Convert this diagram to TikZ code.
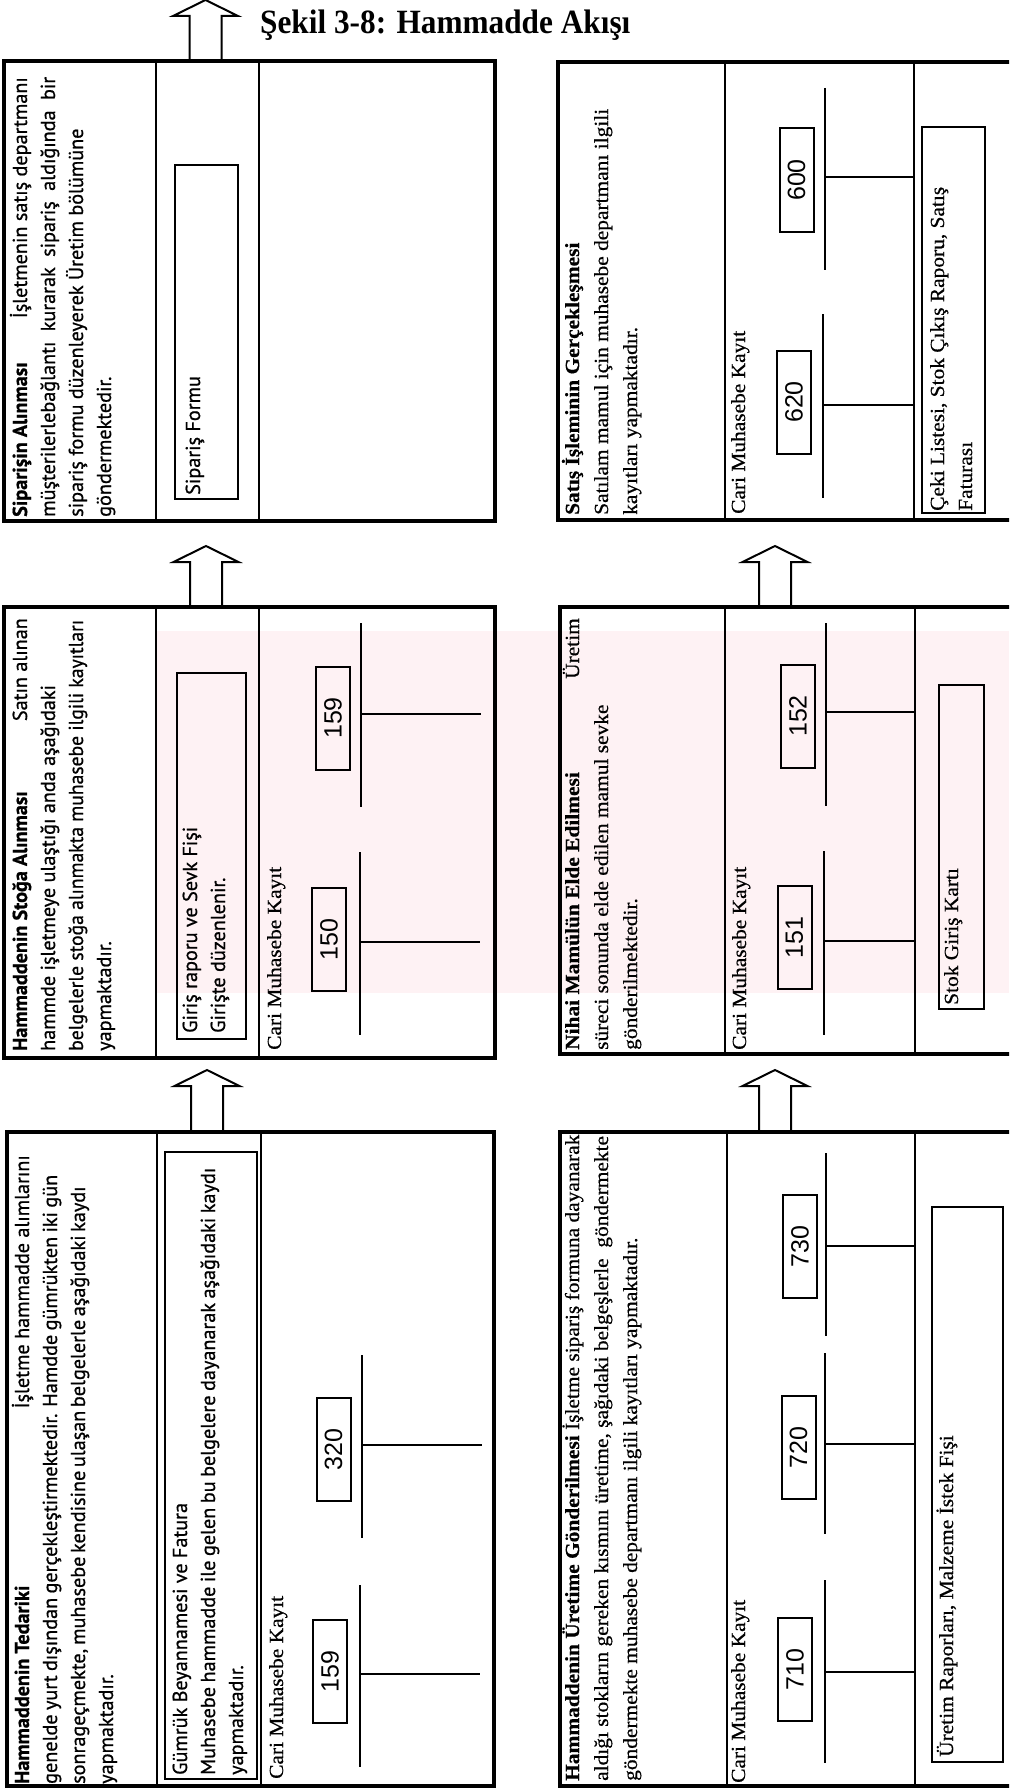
\documentclass[tikz,border=0pt]{standalone}
\usepackage{graphicx}
\usepackage{fontspec}
\setmainfont{Liberation Serif}
\newfontfamily\serifbody[FakeStretch=1.07, FakeBold=0.6]{Liberation Serif}
\newfontfamily\sansbody[FakeBold=0.8]{PT Sans}
\newfontfamily\numfont{Liberation Sans}
\newfontfamily\titlefont[FakeStretch=0.92]{Liberation Serif}
\definecolor{wmpink}{RGB}{254,242,244}

\tikzset{
  frame/.style={line width=4pt},
  divider/.style={line width=2.5pt},
  docbox/.style={draw, line width=2pt},
  numbox/.style={draw, line width=2pt, rotate=90, minimum width=103pt,
    minimum height=34pt, inner sep=0pt, outer sep=0pt,
    font=\numfont\fontsize{25}{25}\selectfont},
  tline/.style={line width=2.5pt},
  sline/.style={rotate=90, anchor=base west, inner sep=0pt,
    font=\sansbody\fontsize{20.2}{28}\selectfont},
  shead/.style={sline, font=\sansbody\bfseries\fontsize{20.2}{28}\selectfont},
  rline/.style={rotate=90, anchor=base west, inner sep=0pt,
    font=\serifbody\fontsize{20}{29}\selectfont},
  lineend/.style={anchor=base east},
  blockup/.pic={
    \draw[line width=2pt, line join=miter]
      (-16,0) -- (-16,-45) -- (-32.5,-45) -- (0,-61) -- (32.5,-45) -- (16,-45) -- (16,0);
  },
}

\begin{document}
\begin{tikzpicture}[x=1pt, y=-1pt]
\useasboundingbox (0,0) rectangle (1009,1790);
\fill[white] (0,0) rectangle (1009,1790);
\clip (0,0) rectangle (1009,1790);

% faint watermark band behind the middle row
\fill[wmpink] (157,631) rectangle (1009,993);

% ---------- title ----------
\node[anchor=base west, inner sep=0pt, font=\titlefont\bfseries\fontsize{34}{34}\selectfont]
  (title) at (260,34) {Şekil 3-8: Hammadde Akışı};
\pic (arrT) at (205.5,61) {blockup};

% ---------- left column, panel 1: Siparişin Alınması ----------
\draw[frame] (4,61) rectangle (495,521);
\draw[divider] (156,61) -- (156,521);
\draw[divider] (259,61) -- (259,521);
\node[shead] (l1a) at (27,517) {Siparişin Alınması};
\node[sline, lineend] (l1b) at (27,77) {İşletmenin satış departmanı};
\node[sline] (l1c) at (55,517) {\makebox[440pt][s]{müşterilerlebağlantı kurarak sipariş aldığında bir}};
\node[sline] (l1d) at (83,517) {sipariş formu düzenleyerek Üretim bölümüne};
\node[sline] (l1e) at (111,517) {göndermektedir.};
\draw[docbox] (175,165) rectangle (238,499);
\node[sline] (l1doc) at (200,495) {Sipariş Formu};

\pic (arrL1) at (206,607) {blockup};

% ---------- left column, panel 2: Hammaddenin Stoğa Alınması ----------
\draw[frame] (4,607) rectangle (495,1058);
\draw[divider] (156,607) -- (156,1058);
\draw[divider] (259,607) -- (259,1058);
\node[shead] (l2a) at (27,1051) {Hammaddenin Stoğa Alınması};
\node[sline, lineend] (l2b) at (27,618) {Satın alınan};
\node[sline] (l2c) at (55,1051) {hammde işletmeye ulaştığı anda aşağıdaki};
\node[sline] (l2d) at (83,1051) {\scalebox{0.972}[1]{belgelerle stoğa alınmakta muhasebe ilgili kayıtları}};
\node[sline] (l2e) at (111,1051) {yapmaktadır.};
\draw[docbox] (177,673) rectangle (246,1039);
\node[sline] (l2doc1) at (197,1033) {Giriş raporu ve Sevk Fişi};
\node[sline] (l2doc2) at (225,1033) {Girişte düzenlenir.};
\node[rline] (l2cari) at (281,1050) {Cari Muhasebe Kayıt};
\node[numbox] (n150) at (329,939.5) {150};
\node[numbox] (n159a) at (333,718) {159};
\draw[tline] (360,852) -- (360,1035);
\draw[tline] (360,942) -- (480,942);
\draw[tline] (361,623) -- (361,807);
\draw[tline] (361,714) -- (481,714);

\pic (arrL2) at (207,1131) {blockup};

% ---------- left column, panel 3: Hammaddenin Tedariki ----------
\draw[frame] (7,1132) rectangle (494,1786);
\draw[divider] (157,1132) -- (157,1786);
\draw[divider] (261,1132) -- (261,1786);
\node[shead] (l3a) at (29,1784) {Hammaddenin Tedariki};
\node[sline, lineend] (l3b) at (29,1155) {İşletme hammadde alımlarını};
\node[sline] (l3c) at (57,1784) {\makebox[609pt][s]{genelde yurt dışından gerçekleştirmektedir. Hamdde gümrükten iki gün}};
\node[sline] (l3d) at (85,1784) {\makebox[596pt][s]{sonrageçmekte, muhasebe kendisine ulaşan belgelerle aşağıdaki kaydı}};
\node[sline] (l3e) at (113,1784) {yapmaktadır.};
\draw[docbox] (165,1152) rectangle (257,1779);
\node[sline] (l3doc1) at (187,1775) {Gümrük Beyannamesi ve Fatura};
\node[sline] (l3doc2) at (215,1775) {\makebox[607pt][s]{Muhasebe hammadde ile gelen bu belgelere dayanarak aşağıdaki kaydı}};
\node[sline] (l3doc3) at (243,1775) {yapmaktadır.};
\node[rline] (l3cari) at (283,1779) {Cari Muhasebe Kayıt};
\node[numbox] (n159b) at (330,1671.5) {159};
\node[numbox] (n320) at (333.5,1449.5) {320};
\draw[tline] (360,1585) -- (360,1767);
\draw[tline] (360,1674) -- (480,1674);
\draw[tline] (362,1355) -- (362,1538);
\draw[tline] (362,1445) -- (482,1445);

% ---------- right column, panel 1: Satış İşleminin Gerçekleşmesi ----------
\draw[frame] (558,62) rectangle (1020,520);
\draw[divider] (725,62) -- (725,520);
\draw[divider] (914,62) -- (914,520);
\node[rline] (r1a) at (579,515) {\textbf{Satış İşleminin Gerçekleşmesi}};
\node[rline] (r1b) at (608,515) {Satılam mamul için muhasebe departmanı ilgili};
\node[rline] (r1c) at (637,515) {kayıtları yapmaktadır.};
\node[rline] (r1cari) at (745,514) {Cari Muhasebe Kayıt};
\node[numbox] (n620) at (794,402) {620};
\node[numbox] (n600) at (796.5,180) {600};
\draw[tline] (823,314) -- (823,498);
\draw[tline] (823,405) -- (914,405);
\draw[tline] (825,88) -- (825,270);
\draw[tline] (825,177) -- (914,177);
\draw[docbox] (922,127) rectangle (985,513);
\node[rline] (r1doc1) at (944,511) {Çeki Listesi, Stok Çıkış Raporu, Satış};
\node[rline] (r1doc2) at (972,511) {Faturası};

\pic (arrR1) at (775,607) {blockup};

% ---------- right column, panel 2: Nihai Mamülün Elde Edilmesi ----------
\draw[frame] (560,607) rectangle (1020,1054);
\draw[divider] (725,607) -- (725,1054);
\draw[divider] (915,607) -- (915,1054);
\node[rline] (r2a) at (579,1050) {\textbf{Nihai Mamülün Elde Edilmesi}};
\node[rline, lineend] (r2b) at (579,618) {Üretim};
\node[rline] (r2c) at (608,1050) {süreci sonunda elde edilen mamul sevke};
\node[rline] (r2d) at (637,1050) {gönderilmektedir.};
\node[rline] (r2cari) at (746,1050) {Cari Muhasebe Kayıt};
\node[numbox] (n151) at (794.5,937.5) {151};
\node[numbox] (n152) at (798,716) {152};
\draw[tline] (824,851) -- (824,1035);
\draw[tline] (824,941) -- (915,941);
\draw[tline] (826,623) -- (826,806);
\draw[tline] (826,712) -- (915,712);
\draw[docbox] (939,685) rectangle (984,1009);
\node[rline] (r2doc) at (958,1005) {Stok Giriş Kartı};

\pic (arrR2) at (775,1131) {blockup};

% ---------- right column, panel 3: Hammaddenin Üretime Gönderilmesi ----------
\draw[frame] (560,1132) rectangle (1020,1786);
\draw[divider] (727,1132) -- (727,1786);
\draw[divider] (915,1132) -- (915,1786);
\node[rline] (r3a) at (579,1781) {\textbf{Hammaddenin Üretime Gönderilmesi} İşletme sipariş formuna dayanarak};
\node[rline] (r3b) at (608,1781) {aldığı stokların gereken kısmını üretime, şağıdaki belgeşlerle\ \ göndermekte};
\node[rline] (r3c) at (637,1781) {göndermekte muhasebe departmanı ilgili kayıtları yapmaktadır.};
\node[rline] (r3cari) at (745,1783) {Cari Muhasebe Kayıt};
\node[numbox] (n710) at (795,1669.5) {710};
\node[numbox] (n720) at (798.5,1447.5) {720};
\node[numbox] (n730) at (800,1246.5) {730};
\draw[tline] (825,1580) -- (825,1763);
\draw[tline] (825,1672) -- (915,1672);
\draw[tline] (825,1353) -- (825,1534);
\draw[tline] (825,1444) -- (915,1444);
\draw[tline] (826,1153) -- (826,1336);
\draw[tline] (826,1246) -- (915,1246);
\draw[docbox] (932,1207) rectangle (1003,1762);
\node[rline] (r3doc) at (953,1757) {Üretim Raporları, Malzeme İstek Fişi};
\end{tikzpicture}
\end{document}
